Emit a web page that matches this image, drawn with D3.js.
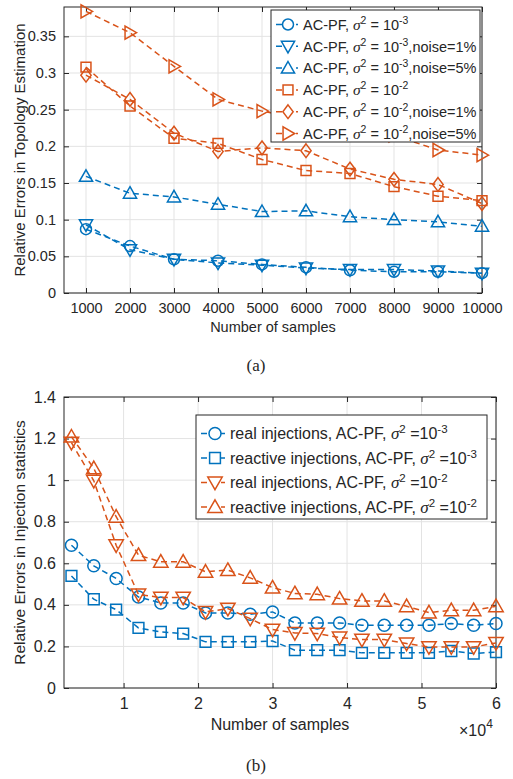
<!DOCTYPE html>
<html>
<head>
<meta charset="utf-8">
<script src="https://cdn.jsdelivr.net/npm/d3@7"></script>
<style>
  body { margin: 0; background: #fff; }
  text { font-family: "Liberation Sans", Arial, sans-serif; fill: #262626; }
  .caption { font-family: "Liberation Serif", "Times New Roman", serif; }
</style>
</head>
<body>
<div id="chart"></div>
<script>
// ---- data (a) ----
var samplesA = [1000, 2000, 3000, 4000, 5000, 6000, 7000, 8000, 9000, 10000];
var acpf3 = [0.087, 0.064, 0.046, 0.044, 0.039, 0.035, 0.031, 0.029, 0.029, 0.027];
var acpf3n1 = [0.093, 0.059, 0.046, 0.041, 0.038, 0.034, 0.032, 0.032, 0.030, 0.027];
var acpf3n5 = [0.159, 0.136, 0.131, 0.121, 0.111, 0.112, 0.104, 0.100, 0.097, 0.091];
var acpf2 = [0.308, 0.255, 0.211, 0.204, 0.182, 0.167, 0.163, 0.145, 0.132, 0.126];
var acpf2n1 = [0.297, 0.264, 0.218, 0.193, 0.198, 0.194, 0.169, 0.155, 0.148, 0.122];
var acpf2n5 = [0.384, 0.355, 0.309, 0.264, 0.248, 0.237, 0.226, 0.215, 0.195, 0.188];
var yTicksA = [0, 0.05, 0.1, 0.15, 0.2, 0.25, 0.3, 0.35];

// ---- data (b) ----
var samplesB = [0.3, 0.6, 0.9, 1.2, 1.5, 1.8, 2.1, 2.4, 2.7, 3.0, 3.3, 3.6, 3.9, 4.2, 4.5, 4.8, 5.1, 5.4, 5.7, 6.0];
var real3 = [0.687, 0.588, 0.527, 0.438, 0.409, 0.409, 0.361, 0.361, 0.355, 0.366, 0.313, 0.313, 0.313, 0.302, 0.302, 0.302, 0.302, 0.310, 0.302, 0.310];
var react3 = [0.539, 0.427, 0.377, 0.289, 0.270, 0.262, 0.222, 0.222, 0.222, 0.226, 0.182, 0.182, 0.182, 0.169, 0.169, 0.169, 0.169, 0.178, 0.166, 0.173];
var real2 = [1.18, 0.997, 0.687, 0.45, 0.435, 0.435, 0.366, 0.382, 0.334, 0.281, 0.265, 0.262, 0.243, 0.233, 0.233, 0.214, 0.197, 0.197, 0.197, 0.217];
var react2 = [1.209, 1.057, 0.824, 0.639, 0.607, 0.607, 0.559, 0.567, 0.530, 0.483, 0.455, 0.451, 0.430, 0.419, 0.419, 0.393, 0.363, 0.374, 0.374, 0.393];
var yTicksB = [0, 0.2, 0.4, 0.6, 0.8, 1, 1.2, 1.4];
var xTicksB = [1, 2, 3, 4, 5, 6];

var blue = "#0072BD", orange = "#D95319";

var seriesA = [
  { y: acpf3, color: blue, marker: "circle", exp: "-3", tail: "" },
  { y: acpf3n1, color: blue, marker: "down", exp: "-3", tail: ",noise=1%" },
  { y: acpf3n5, color: blue, marker: "up", exp: "-3", tail: ",noise=5%" },
  { y: acpf2, color: orange, marker: "square", exp: "-2", tail: "" },
  { y: acpf2n1, color: orange, marker: "diamond", exp: "-2", tail: ",noise=1%" },
  { y: acpf2n5, color: orange, marker: "right", exp: "-2", tail: ",noise=5%" }
];
var seriesB = [
  { y: real3, color: blue, marker: "circle", head: "real injections, AC-PF, ", exp: "-3" },
  { y: react3, color: blue, marker: "square", head: "reactive injections, AC-PF, ", exp: "-3" },
  { y: real2, color: orange, marker: "down", head: "real injections, AC-PF, ", exp: "-2" },
  { y: react2, color: orange, marker: "up", head: "reactive injections, AC-PF, ", exp: "-2" }
];

var W = 513, H = 779;
var svg = d3.select("#chart").append("svg")
  .attr("width", W).attr("height", H);

function markerPath(type, s) {
  var p = d3.path();
  if (type == "circle") { p.moveTo(s, 0); p.arc(0, 0, s, 0, 2 * Math.PI); }
  else if (type == "square") { var h = s * 0.9; p.rect(-h, -h, 2 * h, 2 * h); }
  else if (type == "diamond") { var d = s * 1.25; p.moveTo(0, -d); p.lineTo(d * 0.75, 0); p.lineTo(0, d); p.lineTo(-d * 0.75, 0); p.closePath(); }
  else if (type == "up") { var t = s * 1.2; p.moveTo(0, -t); p.lineTo(t, t * 0.75); p.lineTo(-t, t * 0.75); p.closePath(); }
  else if (type == "down") { var t = s * 1.2; p.moveTo(0, t); p.lineTo(t, -t * 0.75); p.lineTo(-t, -t * 0.75); p.closePath(); }
  else if (type == "right") { var t = s * 1.2; p.moveTo(t, 0); p.lineTo(-t * 0.75, t); p.lineTo(-t * 0.75, -t); p.closePath(); }
  return p.toString();
}

function drawPanel(cfg) {
  var x = cfg.x, y = cfg.y;
  var x0 = x.range()[0], x1 = x.range()[1], y0 = y.range()[0], y1 = y.range()[1];
  var g = svg.append("g");

  // grid
  g.append("g").selectAll("line").data(cfg.xTicks).enter().append("line")
    .attr("x1", d => x(d)).attr("x2", d => x(d)).attr("y1", y0).attr("y2", y1)
    .attr("stroke", "#e3e3e3").attr("stroke-width", 1);
  g.append("g").selectAll("line").data(cfg.yTicks).enter().append("line")
    .attr("y1", d => y(d)).attr("y2", d => y(d)).attr("x1", x0).attr("x2", x1)
    .attr("stroke", "#e3e3e3").attr("stroke-width", 1);

  // axes, ticks pointing inward like matlab
  var bottom = g.append("g").attr("transform", "translate(0," + y0 + ")")
    .call(d3.axisBottom(x).tickValues(cfg.xTicks).tickSize(-5).tickPadding(10).tickFormat(cfg.xFmt));
  var left = g.append("g").attr("transform", "translate(" + x0 + ",0)")
    .call(d3.axisLeft(y).tickValues(cfg.yTicks).tickSize(-5).tickPadding(8).tickFormat(d3.format("")));
  var top = g.append("g").attr("transform", "translate(0," + y1 + ")")
    .call(d3.axisTop(x).tickValues(cfg.xTicks).tickSize(-5).tickFormat(""));
  var right = g.append("g").attr("transform", "translate(" + x1 + ",0)")
    .call(d3.axisRight(y).tickValues(cfg.yTicks).tickSize(-5).tickFormat(""));
  [bottom, left, top, right].forEach(function(a) {
    a.select(".domain").remove();
    a.selectAll("line").attr("stroke", "#262626");
    a.selectAll("text").style("font-size", cfg.fs + "px").attr("fill", "#262626");
  });
  g.append("rect").attr("x", x0).attr("y", y1).attr("width", x1 - x0).attr("height", y0 - y1)
    .attr("fill", "none").attr("stroke", "#262626").attr("stroke-width", 1);

  // series
  var line = d3.line().x((d, i) => x(cfg.xs[i])).y(d => y(d));
  cfg.series.forEach(function(s) {
    var sg = g.append("g");
    sg.append("path").datum(s.y).attr("d", line)
      .attr("fill", "none").attr("stroke", s.color).attr("stroke-width", 1.5)
      .attr("stroke-dasharray", "6,4");
    sg.selectAll("path.m").data(s.y).enter().append("path").attr("class", "m")
      .attr("transform", (d, i) => "translate(" + x(cfg.xs[i]) + "," + y(d) + ")")
      .attr("d", markerPath(s.marker, cfg.ms))
      .attr("fill", "none").attr("stroke", s.color).attr("stroke-width", 1.5);
  });

  // axis labels
  g.append("text").attr("x", (x0 + x1) / 2).attr("y", cfg.xlabY)
    .attr("text-anchor", "middle").style("font-size", cfg.fs + "px").text("Number of samples");
  g.append("text").attr("transform", "translate(" + cfg.ylabX + "," + (y0 + y1) / 2 + ") rotate(-90)")
    .attr("text-anchor", "middle").style("font-size", cfg.ylfs + "px").text(cfg.ylab);
  return g;
}

function legendText(t, parts, fs) {
  parts.forEach(function(p) {
    var ts = t.append("tspan").text(p.s);
    if (p.it) ts.style("font-style", "italic").style("font-family", "'Liberation Serif', serif").style("font-size", (fs + 1) + "px");
    if (p.sup) ts.attr("dy", -6).style("font-size", (fs * 0.72) + "px");
    if (p.down) ts.attr("dy", 6);
  });
}

function drawLegend(g, cfg) {
  g.append("rect").attr("x", cfg.x).attr("y", cfg.y).attr("width", cfg.w).attr("height", cfg.h)
    .attr("fill", "#fff").attr("stroke", "#262626").attr("stroke-width", 1);
  cfg.series.forEach(function(s, i) {
    var cy = cfg.y + cfg.first + i * cfg.step;
    g.append("line").attr("x1", cfg.x + 5).attr("x2", cfg.mx + 10).attr("y1", cy).attr("y2", cy)
      .attr("stroke", s.color).attr("stroke-width", 1.5).attr("stroke-dasharray", "6,4");
    g.append("path").attr("transform", "translate(" + cfg.mx + "," + cy + ")")
      .attr("d", markerPath(s.marker, cfg.ms)).attr("fill", "#fff")
      .attr("stroke", s.color).attr("stroke-width", 1.5);
    var t = g.append("text").attr("x", cfg.tx).attr("y", cy + cfg.fs * 0.36).style("font-size", cfg.fs + "px");
    legendText(t, cfg.parts(s), cfg.fs);
  });
}

// ---- panel (a) ----
var xA = d3.scaleLinear().domain([500, 10000]).range([64, 482]);
var yA = d3.scaleLinear().domain([0, 0.39]).range([293, 7]);
var gA = drawPanel({
  x: xA, y: yA, xs: samplesA, xTicks: samplesA, yTicks: yTicksA, series: seriesA,
  xFmt: d3.format("d"), fs: 14.5, ylfs: 15, ms: 5.5, xlabY: 332, ylabX: 25,
  ylab: "Relative Errors in Topology Estimation"
});
drawLegend(gA, {
  x: 271, y: 10, w: 209, h: 132, first: 14.5, step: 21.8, mx: 288, tx: 303, fs: 14.5, ms: 5.5,
  series: seriesA,
  parts: function(s) {
    return [{ s: "AC-PF, " }, { s: "σ", it: true }, { s: "2", sup: true }, { s: " = 10", down: true },
            { s: s.exp, sup: true }, { s: s.tail, down: true }];
  }
});
svg.append("text").attr("class", "caption").attr("x", 256).attr("y", 371)
  .attr("text-anchor", "middle").style("font-size", "17px").text("(a)");

// ---- panel (b) ----
var xB = d3.scaleLinear().domain([0.2, 6]).range([64, 496]);
var yB = d3.scaleLinear().domain([0, 1.4]).range([688, 397]);
var gB = drawPanel({
  x: xB, y: yB, xs: samplesB, xTicks: xTicksB, yTicks: yTicksB, series: seriesB,
  xFmt: d3.format("d"), fs: 16, ylfs: 15.5, ms: 6, xlabY: 730, ylabX: 25,
  ylab: "Relative Errors in Injection statistics"
});
drawLegend(gB, {
  x: 196, y: 415, w: 291, h: 104, first: 18.5, step: 24.5, mx: 215, tx: 230, fs: 16, ms: 6,
  series: seriesB,
  parts: function(s) {
    return [{ s: s.head }, { s: "σ", it: true }, { s: "2", sup: true }, { s: " =10", down: true },
            { s: s.exp, sup: true }];
  }
});
var mult = gB.append("text").attr("x", 459).attr("y", 736).style("font-size", "16px");
mult.append("tspan").text("×10");
mult.append("tspan").attr("dy", -8).style("font-size", "12px").text("4");
svg.append("text").attr("class", "caption").attr("x", 256).attr("y", 771)
  .attr("text-anchor", "middle").style("font-size", "17px").text("(b)");
</script>
</body>
</html>
